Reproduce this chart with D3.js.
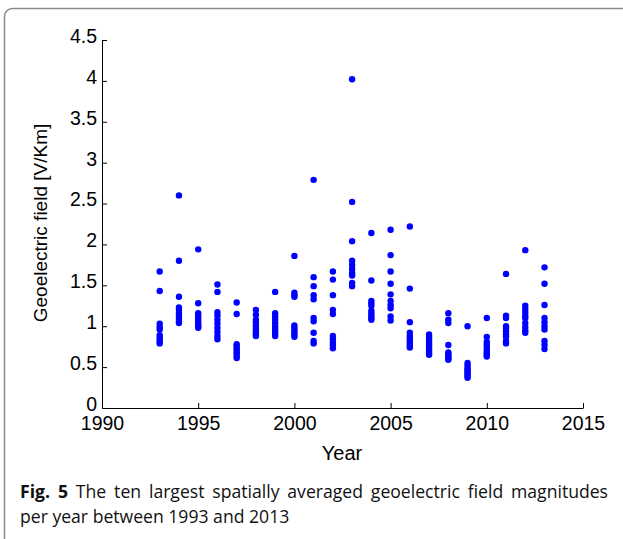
<!DOCTYPE html>
<html><head><meta charset="utf-8">
<script src="https://cdn.jsdelivr.net/npm/d3@7"></script>
<style>html,body{margin:0;padding:0;background:#fff;}</style>
</head><body>
<svg id="chart" width="623" height="539"></svg>
<script>
const years = [1993,1994,1995,1996,1997,1998,1999,2000,2001,2002,2003,2004,2005,2006,2007,2008,2009,2010,2011,2012,2013];
const v1993 = [1.67,1.43,1.03,0.99,0.96,0.89,0.86,0.83,0.81,0.79];
const v1994 = [2.60,1.80,1.36,1.23,1.20,1.16,1.12,1.09,1.06,1.04];
const v1995 = [1.94,1.28,1.16,1.13,1.10,1.07,1.04,1.02,1.00,0.98];
const v1996 = [1.51,1.42,1.17,1.13,1.08,1.03,0.98,0.93,0.88,0.84];
const v1997 = [1.29,1.15,0.78,0.76,0.73,0.71,0.68,0.66,0.63,0.61];
const v1998 = [1.20,1.14,1.08,1.05,1.01,0.98,0.95,0.92,0.90,0.88];
const v1999 = [1.42,1.16,1.12,1.08,1.04,1.00,0.97,0.94,0.91,0.88];
const v2000 = [1.86,1.41,1.38,1.36,1.01,0.98,0.95,0.92,0.90,0.87];
const v2001 = [2.79,1.60,1.49,1.38,1.33,1.10,1.06,0.92,0.82,0.79];
const v2002 = [1.67,1.57,1.38,1.20,1.15,0.88,0.84,0.80,0.77,0.73];
const v2003 = [4.02,2.52,2.04,1.80,1.75,1.70,1.65,1.62,1.53,1.49];
const v2004 = [2.14,1.56,1.31,1.28,1.25,1.19,1.16,1.13,1.10,1.08];
const v2005 = [2.18,1.87,1.67,1.52,1.39,1.31,1.26,1.22,1.12,1.07];
const v2006 = [2.22,1.46,1.05,0.92,0.88,0.85,0.82,0.79,0.76,0.74];
const v2007 = [0.90,0.87,0.84,0.81,0.78,0.75,0.72,0.70,0.67,0.65];
const v2008 = [1.16,1.08,1.04,0.77,0.68,0.66,0.64,0.62,0.60,0.59];
const v2009 = [1.00,0.55,0.52,0.49,0.47,0.45,0.43,0.41,0.39,0.37];
const v2010 = [1.10,0.87,0.81,0.78,0.75,0.72,0.69,0.67,0.65,0.63];
const v2011 = [1.64,1.13,1.10,1.00,0.97,0.94,0.90,0.87,0.82,0.79];
const v2012 = [1.93,1.25,1.21,1.17,1.13,1.10,1.04,0.99,0.95,0.92];
const v2013 = [1.72,1.52,1.26,1.10,1.05,1.00,0.96,0.82,0.77,0.72];
const xTicks = [1990,1995,2000,2005,2010,2015];
const yTicks = [0,0.5,1,1.5,2,2.5,3,3.5,4,4.5];
const yTickLabels = ["0","0.5","1","1.5","2","2.5","3","3.5","4","4.5"];
const xTitle = "Year";
const yTitle = "Geoelectric field [V/Km]";
const captionBold = "Fig. 5";
const captionLine1 = "The ten largest spatially averaged geoelectric field magnitudes";
const captionLine2 = "per year between 1993 and 2013";

const allValues = [v1993,v1994,v1995,v1996,v1997,v1998,v1999,v2000,v2001,v2002,v2003,v2004,v2005,v2006,v2007,v2008,v2009,v2010,v2011,v2012,v2013];
const points = [];
years.forEach((yr,i)=>allValues[i].forEach(v=>points.push({year:yr,value:v})));

const svg = d3.select("#chart");
// frame
svg.append("rect").attr("x",4.5).attr("y",8.5).attr("width",640).attr("height",560)
  .attr("rx",8).attr("fill","none").attr("stroke","#8a8a8a").attr("stroke-width",1.5);

const x = d3.scaleLinear().domain([1990,2015]).range([102,583]);
const y = d3.scaleLinear().domain([0,4.5]).range([408,40]);

const font = "'Liberation Sans', Arial, Helvetica, sans-serif";

// x axis
const xAxis = svg.append("g").attr("transform","translate(0,408)")
  .call(d3.axisBottom(x).tickValues(xTicks).tickFormat(d3.format("d")).tickSizeInner(-5).tickSizeOuter(0).tickPadding(8));
xAxis.select(".domain").attr("stroke","#000").attr("stroke-width",1);
xAxis.selectAll("text").style("font-family",font).style("font-size","19.5px").attr("fill","#000");

// y axis
const yAxis = svg.append("g").attr("transform","translate(102,0)")
  .call(d3.axisLeft(y).tickValues(yTicks).tickFormat((d,i)=>yTickLabels[i]).tickSizeInner(-5).tickSizeOuter(0).tickPadding(5));
yAxis.select(".domain").attr("stroke","#000").attr("stroke-width",1);
yAxis.selectAll("text").style("font-family",font).style("font-size","19.5px").attr("fill","#000").attr("dy","0.12em");

// points
svg.append("g").selectAll("circle").data(points).join("circle")
  .attr("cx",d=>x(d.year)).attr("cy",d=>y(d.value)).attr("r",3.2)
  .attr("fill","#0000ff");

// titles
svg.append("text").attr("x",342).attr("y",460).attr("text-anchor","middle")
  .style("font-family",font).style("font-size","20px").text(xTitle);
svg.append("text").attr("transform","translate(47,223) rotate(-90)").attr("text-anchor","middle")
  .style("font-family",font).style("font-size","19px").text(yTitle);

// caption: first line justified to the caption width
const capFont = "'Open Sans', 'Noto Sans', sans-serif";
const capSize = 17.6;
const c1 = svg.append("text").attr("x",20).attr("y",498).style("font-family",capFont).style("font-size",capSize+"px").attr("fill","#111");
c1.append("tspan").attr("font-weight","bold").text(captionBold);
c1.append("tspan").text(" " + captionLine1);
const natural = c1.node().getComputedTextLength();
const nSpaces = (captionBold + " " + captionLine1).split(" ").length - 1;
const ws = Math.max(0, (588 - natural) / nSpaces);
c1.style("word-spacing", ws + "px");
svg.append("text").attr("x",20).attr("y",523).style("font-family",capFont).style("font-size",capSize+"px").attr("fill","#111").text(captionLine2);
</script>
</body></html>
